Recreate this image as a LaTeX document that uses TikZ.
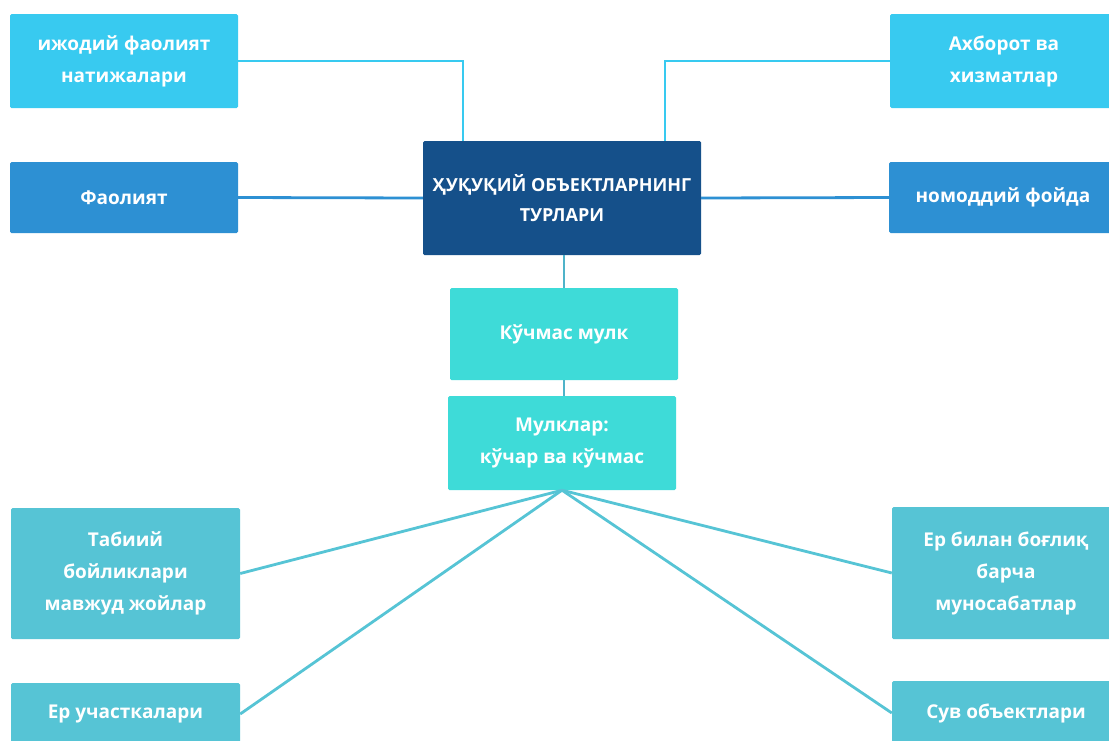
\documentclass[tikz,border=0pt]{standalone}
\usepackage{fontspec}
\setmainfont{Open Sans}
\definecolor{cyanA}{HTML}{38CAF0}
\definecolor{blueB}{HTML}{2D90D3}
\definecolor{navy}{HTML}{15508A}
\definecolor{turq}{HTML}{3EDBD8}
\definecolor{teal}{HTML}{56C4D5}
\definecolor{midline}{HTML}{4FB3C9}
\begin{document}
\begin{tikzpicture}[x=1pt,y=-1pt,
  box/.style={rectangle, rounded corners=1.5pt, text=white, align=center,
    font=\fontsize{19}{32}\selectfont\bfseries, inner sep=0pt},
  conn/.style={line width=2.8pt}]
\useasboundingbox (0,0) rectangle (1109,740);
\clip (0,0) rectangle (1109,740);
\fill[white] (0,0) rectangle (1109,740);
% nodes
\node[box, fill=cyanA, minimum width=228pt, minimum height=94pt] (A) at (124,61) {ижодий фаолият\\натижалари};
\node[box, fill=blueB, minimum width=228pt, minimum height=71pt] (B) at (124,197.5) {Фаолият};
\node[box, fill=navy, minimum width=278pt, minimum height=114pt, font=\fontsize{18}{30}\selectfont\bfseries] (Cn) at (562,198) {ҲУҚУҚИЙ ОБЪЕКТЛАРНИНГ\\ТУРЛАРИ};
\node[box, fill=cyanA, minimum width=228pt, minimum height=94pt] (C) at (1004,61) {Ахборот ва\\хизматлар};
\node[box, fill=blueB, minimum width=228pt, minimum height=71pt] (D) at (1003,197.5) {номоддий фойда};
\node[box, fill=turq, minimum width=228pt, minimum height=92pt] (K) at (564,334) {Кўчмас мулк};
\node[box, fill=turq, minimum width=228pt, minimum height=94pt] (M) at (562,443) {Мулклар:\\кўчар ва кўчмас};
\node[box, fill=teal, minimum width=229pt, minimum height=131pt] (T) at (125.5,573.5) {Табиий\\бойликлари\\мавжуд жойлар};
\node[box, fill=teal, minimum width=229pt, minimum height=62pt] (E) at (125.5,714) {Ер участкалари};
\node[box, fill=teal, minimum width=228pt, minimum height=132pt] (R) at (1006,573) {Ер билан боғлиқ\\барча\\муносабатлар};
\node[box, fill=teal, minimum width=228pt, minimum height=64pt] (S) at (1006,713) {Сув объектлари};
% connectors
\draw[conn, cyanA] (A.east) -| ([xshift=-99pt]Cn.north);
\draw[conn, cyanA] (C.west) -| ([xshift=103pt]Cn.north);
\draw[conn, blueB] (B.east) -- (Cn.west);
\draw[conn, blueB] (D.west) -- (Cn.east);
\draw[conn, midline] (K.north |- Cn.south) -- (K.north);
\draw[conn, midline] (K.south) -- (K.south |- M.north);
\draw[conn, teal] (M.south) -- (T.east);
\draw[conn, teal] (M.south) -- (E.east);
\draw[conn, teal] (M.south) -- (R.west);
\draw[conn, teal] (M.south) -- (S.west);
\end{tikzpicture}
\end{document}
